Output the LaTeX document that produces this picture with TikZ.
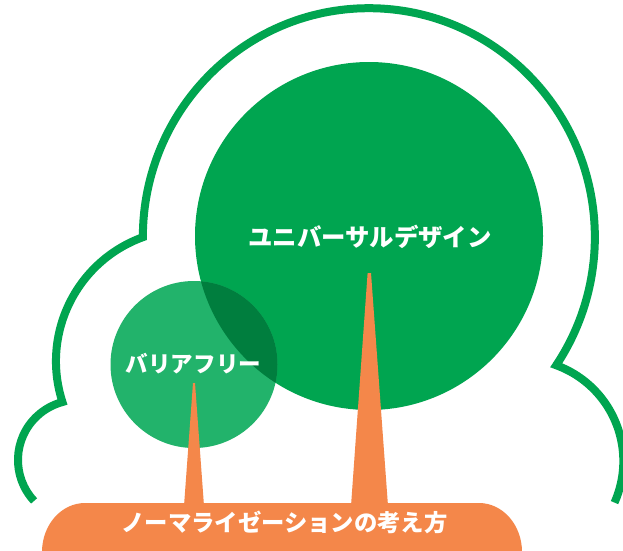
\documentclass[tikz,border=0pt]{standalone}
\usepackage{fontspec}
\newfontfamily\jp{Noto Sans CJK JP}
\definecolor{ggreen}{HTML}{00A550}
\definecolor{lgreen}{HTML}{22B36B}
\definecolor{dgreen}{HTML}{007E3E}
\definecolor{orng}{HTML}{F4874A}
\tikzset{
  cloudline/.style={draw=ggreen, line width=6pt, line join=miter, line cap=butt, fill=white},
  trunk/.style={fill=orng},
  lbl/.style={text=white, inner sep=0pt, font=\jp\bfseries}
}
\begin{document}
\begin{tikzpicture}[x=0.75pt,y=-0.75pt]
\useasboundingbox (0,0) rectangle (623,550);
\clip (0,0) rectangle (623,550);
\fill[white] (0,0) rectangle (623,550);
% cloud outline (arcs chained so each starts where the previous ends)
\draw[cloudline] (34.1,500.9) arc[start angle=137,end angle=255,radius=60]
  arc[start angle=162,end angle=250,radius=132]
  arc[start angle=180,end angle=394,x radius=226,y radius=229]
  arc[start angle=-70,end angle=24,radius=102];
% circles
\fill[ggreen] (369,236) circle[radius=174];
\fill[lgreen] (194,364.5) circle[radius=83.5];
\begin{scope}
  \clip (369,236) circle[radius=174];
  \fill[dgreen] (194,364.5) circle[radius=83.5];
\end{scope}
% trunks
\fill[trunk] (351,506) -- (367.6,273) -- (371,273) -- (388,506) -- cycle;
\fill[trunk] (184,506) -- (193,383) -- (195,383) -- (204,506) -- cycle;
% base
\fill[orng] (42,552) arc[start angle=180,end angle=270,x radius=43,y radius=49]
  -- (479,503) arc[start angle=270,end angle=360,x radius=43,y radius=49] -- cycle;
% labels
\node[lbl, font=\jp\bfseries\fontsize{18.3}{20}\selectfont] (ud) at (370,237) {ユニバーサルデザイン};
\node[lbl, font=\jp\bfseries\fontsize{16.9}{19}\selectfont] (bf) at (193.5,364) {バリアフリー};
\node[lbl, font=\jp\bfseries\fontsize{17.5}{19}\selectfont] (nm) at (284.5,522.5) {ノーマライゼーションの考え方};
\end{tikzpicture}
\end{document}
